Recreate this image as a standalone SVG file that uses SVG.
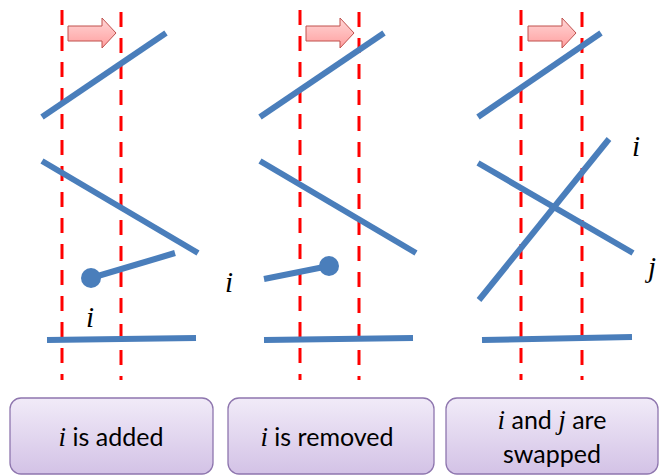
<svg xmlns="http://www.w3.org/2000/svg" width="661" height="475" viewBox="0 0 661 475">
<defs>
<linearGradient id="boxg" x1="0" y1="0" x2="0" y2="1">
<stop offset="0" stop-color="#f1ebf8"/>
<stop offset="1" stop-color="#d3c2e6"/>
</linearGradient>
<linearGradient id="arrg" x1="0" y1="0" x2="0" y2="1">
<stop offset="0" stop-color="#ffd6d6"/>
<stop offset="1" stop-color="#ff9f9f"/>
</linearGradient>
</defs>
<style>
.dash{stroke:#ff0000;stroke-width:3;stroke-dasharray:15 11;fill:none}
.seg{stroke:#4a7ebb;stroke-width:6;fill:none}
.dot{fill:#4a7ebb}
.arr{fill:url(#arrg);stroke:#c0504d;stroke-width:1}
.box{fill:url(#boxg);stroke:#8e76ae;stroke-width:1.3}
.lbl{font-family:Lato,"Open Sans",sans-serif;font-size:25px;fill:#000;text-anchor:middle}
.mi{font-family:"Liberation Serif",serif;font-style:italic;font-size:27px}
.var{font-family:"Liberation Serif",serif;font-style:italic;font-size:29px;fill:#000}
</style>
<g id="sweep-lines">
<line class="dash" x1="62" y1="10" x2="62" y2="380"/>
<line class="dash" x1="121" y1="12" x2="121" y2="380"/>
<line class="dash" x1="300" y1="10" x2="300" y2="380"/>
<line class="dash" x1="359" y1="12" x2="359" y2="380"/>
<line class="dash" x1="521" y1="10" x2="521" y2="380"/>
<line class="dash" x1="582" y1="12" x2="582" y2="380"/>
</g>
<g id="arrows">
<path class="arr" d="M68,26 H102 V18 L116,33 L102,48 V41 H68 Z"/>
<path class="arr" d="M306,26 H340 V18 L354,33 L340,48 V41 H306 Z"/>
<path class="arr" d="M528,26 H562 V18 L576,33 L562,48 V41 H528 Z"/>
</g>
<g id="panel-added">
<line class="seg" x1="42" y1="117" x2="166" y2="33"/>
<line class="seg" x1="42" y1="161" x2="198" y2="253"/>
<line class="seg" x1="91" y1="278" x2="175" y2="253"/>
<circle class="dot" cx="91" cy="278" r="10"/>
<text class="var" x="86" y="327">i</text>
<line class="seg" x1="47" y1="340" x2="196" y2="338"/>
</g>
<g id="panel-removed">
<line class="seg" x1="260" y1="117" x2="384" y2="33"/>
<line class="seg" x1="260" y1="161" x2="416" y2="253"/>
<line class="seg" x1="264" y1="279" x2="329" y2="266"/>
<circle class="dot" cx="329" cy="266" r="10"/>
<text class="var" x="225" y="292">i</text>
<line class="seg" x1="264" y1="340" x2="413" y2="338"/>
</g>
<g id="panel-swapped">
<line class="seg" x1="478" y1="117" x2="601" y2="33"/>
<line class="seg" x1="478" y1="163" x2="633" y2="253"/>
<line class="seg" x1="479" y1="300" x2="609" y2="139"/>
<text class="var" x="632" y="156">i</text>
<text class="var" x="648" y="277">j</text>
<line class="seg" x1="482" y1="340" x2="632" y2="337"/>
</g>
<g id="box-added">
<rect class="box" x="10" y="398" width="203" height="76" rx="11"/>
<text class="lbl" x="111" y="446"><tspan class="mi">i</tspan> is added</text>
</g>
<g id="box-removed">
<rect class="box" x="228" y="398" width="206" height="76" rx="11"/>
<text class="lbl" x="327" y="446"><tspan class="mi">i</tspan> is removed</text>
</g>
<g id="box-swapped">
<rect class="box" x="446" y="398" width="212" height="76" rx="11"/>
<text class="lbl" x="552" y="429"><tspan class="mi">i</tspan> and <tspan class="mi">j</tspan> are</text>
<text class="lbl" x="552" y="463">swapped</text>
</g>
</svg>
